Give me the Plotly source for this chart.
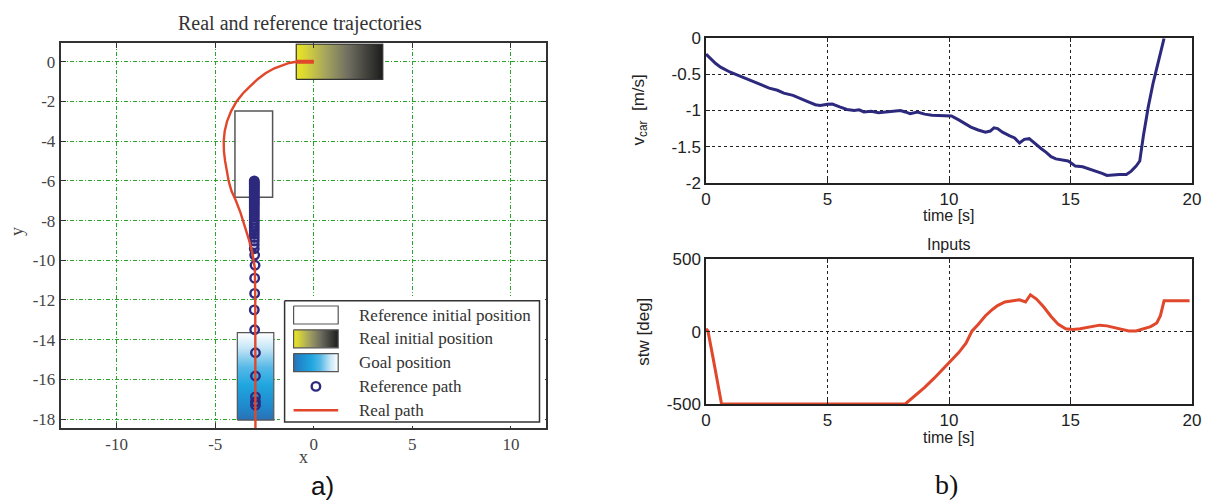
import plotly.graph_objects as go

W, H = 1206, 500

# ---------------- Panel a) data ----------------
ref_rect_x = [-4.0, -2.09]
ref_rect_y = [-6.82, -2.48]
real_rect_x = [-0.89, 3.5]
real_rect_y = [-0.89, 0.89]
goal_rect_x = [-3.88, -2.03]
goal_rect_y = [-18.05, -13.65]

ref_path_y = [-6.0, -6.07, -6.14, -6.21, -6.28, -6.36, -6.44, -6.52, -6.6, -6.69,
              -6.78, -6.87, -6.96, -7.06, -7.16, -7.26, -7.37, -7.48, -7.59, -7.71,
              -7.83, -7.96, -8.09, -8.23, -8.37, -8.52, -8.68, -8.85, -9.03, -9.22,
              -9.42, -9.74, -10.25, -10.9, -11.67, -12.5, -13.5, -14.66, -15.83,
              -16.88, -17.13, -17.3]
ref_path_x = [-3.02, -3.02, -3.02, -3.02, -3.02, -3.02, -3.02, -3.02, -3.02, -3.02,
              -3.02, -3.02, -3.02, -3.02, -3.02, -3.02, -3.02, -3.02, -3.02, -3.02,
              -3.02, -3.02, -3.02, -3.02, -3.02, -3.02, -3.02, -3.02, -3.02, -3.02,
              -3.02, -3.0, -2.98, -3.0, -3.0, -3.02, -3.0, -2.96, -2.96, -2.96, -2.96, -2.96]

real_path_x = [0.0, -0.45, -0.89, -1.25, -1.6, -2.0, -2.45, -2.85, -3.25, -3.6,
               -3.92, -4.2, -4.4, -4.52, -4.57, -4.56, -4.5, -4.42, -4.32, -4.18,
               -3.95, -3.72, -3.48, -3.28, -3.1, -2.99, -2.97, -2.97, -2.96]
real_path_y = [0.0, 0.0, 0.0, -0.06, -0.17, -0.33, -0.58, -0.88, -1.25, -1.6,
               -2.0, -2.5, -3.0, -3.5, -4.0, -4.5, -5.0, -5.5, -6.0, -6.5,
               -7.0, -7.6, -8.3, -9.0, -9.7, -10.4, -12.0, -15.0, -18.8]

a_xticks = [-10, -5, 0, 5, 10]
a_xticklabels = ["-10", "-5", "0", "5", "10"]
a_yticks = [0, -2, -4, -6, -8, -10, -12, -14, -16, -18]
a_yticklabels = ["0", "-2", "-4", "-6", "-8", "-10", "-12", "-14", "-16", "-18"]

legend_labels = ["Reference initial position", "Real initial position",
                 "Goal position", "Reference path", "Real path"]

# ---------------- Panel b) data ----------------
t_v = [0.0, 0.2, 0.4, 0.6, 0.8, 1.0, 1.3, 1.67, 2.0, 2.3, 2.6, 2.94, 3.2, 3.58, 3.9,
       4.21, 4.5, 4.7, 5.0, 5.2, 5.5, 5.8, 6.1, 6.3, 6.5, 6.8, 7.1, 7.4, 7.7, 8.0,
       8.2, 8.4, 8.7, 9.0, 9.3, 9.6, 9.9, 10.1, 10.4, 10.7, 10.9, 11.2, 11.5, 11.7,
       11.85, 12.0, 12.2, 12.5, 12.7, 12.9, 13.1, 13.3, 13.5, 13.8, 14.0, 14.2, 14.4,
       14.6, 14.9, 15.0, 15.2, 15.5, 15.7, 16.0, 16.3, 16.5, 16.7, 17.0, 17.3, 17.5,
       17.7, 17.85, 18.0, 18.2, 18.4, 18.6, 18.75, 18.85]
v_car = [-0.22, -0.29, -0.35, -0.40, -0.44, -0.47, -0.51, -0.56, -0.61, -0.65, -0.69,
         -0.72, -0.76, -0.79, -0.84, -0.88, -0.92, -0.93, -0.915, -0.91, -0.95, -0.985,
         -1.0, -0.99, -1.02, -1.01, -1.03, -1.02, -1.01, -1.0, -1.02, -1.045, -1.02,
         -1.05, -1.065, -1.07, -1.08, -1.075, -1.13, -1.19, -1.23, -1.27, -1.30, -1.285,
         -1.24, -1.25, -1.30, -1.35, -1.38, -1.45, -1.40, -1.39, -1.45, -1.53, -1.58,
         -1.64, -1.67, -1.68, -1.70, -1.72, -1.77, -1.78, -1.80, -1.84, -1.87, -1.90,
         -1.89, -1.885, -1.885, -1.84, -1.77, -1.70, -1.35, -0.95, -0.62, -0.33, -0.15, 0.0]

t_s = [0.0, 0.08, 0.3, 0.64, 8.2, 8.6, 9.0, 9.4, 9.8, 10.1, 10.4, 10.7, 10.95, 11.2,
       11.5, 11.8, 12.0, 12.3, 12.6, 12.9, 13.15, 13.35, 13.6, 13.9, 14.2, 14.5, 14.8,
       15.1, 15.4, 15.8, 16.2, 16.5, 16.8, 17.1, 17.4, 17.7, 18.0, 18.3, 18.55, 18.7,
       18.85, 19.9]
stw = [20, 5, -190, -500, -500, -445, -385, -320, -250, -200, -145, -80, 5, 50,
       110, 155, 180, 205, 215, 220, 205, 255, 225, 170, 105, 50, 20,
       15, 20, 30, 45, 40, 30, 15, 5, 5, 20, 35, 60, 110, 213, 213]

b_xticks = [0, 5, 10, 15, 20]
b_xticklabels = ["0", "5", "10", "15", "20"]
v_yticks = [0, -0.5, -1, -1.5, -2]
v_yticklabels = ["0", "-0.5", "-1", "-1.5", "-2"]
s_yticks = [500, 0, -500]
s_yticklabels = ["500", "0", "-500"]

# ---------------- styles ----------------
RED = "#e0472b"
NAVY = "#2d2a7e"
SERIF = "Liberation Serif"
SANS = "Liberation Sans"

yellow_scale = [[0, "#ebe51f"], [0.12, "#d5d23a"], [0.35, "#a3a25f"],
                [0.6, "#6f6e60"], [0.85, "#3a3a36"], [1, "#1c1c1c"]]
goal_scale = [[0, "#2b70b4"], [0.15, "#2088cc"], [0.4, "#1fa6df"],
              [0.6, "#55b8e7"], [0.82, "#c4e5f6"], [1, "#ffffff"]]


def px_x(p):
    return p / W


def px_y(p):
    return 1 - p / H


def rect_xy(xr, yr):
    return ([xr[0], xr[1], xr[1], xr[0], xr[0]], [yr[0], yr[0], yr[1], yr[1], yr[0]])


fig = go.Figure()

# --- panel a traces
rx, ry = rect_xy(ref_rect_x, ref_rect_y)
fig.add_trace(go.Scatter(x=rx, y=ry, mode="lines", fill="toself", fillcolor="white",
                         line=dict(color="#555555", width=1.5), xaxis="x", yaxis="y",
                         showlegend=False, hoverinfo="skip"))
rx, ry = rect_xy(real_rect_x, real_rect_y)
fig.add_trace(go.Scatter(x=rx, y=ry, mode="lines", fill="toself",
                         fillgradient=dict(type="horizontal", colorscale=yellow_scale),
                         line=dict(color="#333333", width=1.2), xaxis="x", yaxis="y",
                         showlegend=False, hoverinfo="skip"))
rx, ry = rect_xy(goal_rect_x, goal_rect_y)
fig.add_trace(go.Scatter(x=rx, y=ry, mode="lines", fill="toself",
                         fillgradient=dict(type="vertical", colorscale=goal_scale),
                         line=dict(color="#555555", width=1.2), xaxis="x", yaxis="y",
                         showlegend=False, hoverinfo="skip"))
fig.add_trace(go.Scatter(x=ref_path_x, y=ref_path_y, mode="markers",
                         marker=dict(symbol="circle-open", size=8.5, color=NAVY,
                                     line=dict(width=2.4, color=NAVY)),
                         xaxis="x", yaxis="y", showlegend=False))
fig.add_trace(go.Scatter(x=real_path_x, y=real_path_y, mode="lines",
                         line=dict(color=RED, width=2.4), xaxis="x", yaxis="y",
                         showlegend=False))
fig.add_trace(go.Scatter(x=real_path_x[:3], y=real_path_y[:3], mode="lines",
                         line=dict(color=RED, width=4), xaxis="x", yaxis="y",
                         showlegend=False))

# --- custom legend (overlay axes in pixel units)
LX0, LX1, LY0, LY1 = 280, 545, 296, 426
box_x, box_y = rect_xy([284.6, 539.5], [300.7, 422])
fig.add_trace(go.Scatter(x=box_x, y=box_y, mode="lines", fill="toself", fillcolor="white",
                         line=dict(color="#333333", width=1.5), xaxis="x4", yaxis="y4",
                         showlegend=False, hoverinfo="skip"))
row_y = [315, 338.8, 362.6, 386.4, 410.2]
sw_x = [293.6, 338.2]
swatch_fill = [dict(fillcolor="white"),
               dict(fillgradient=dict(type="horizontal", colorscale=yellow_scale)),
               dict(fillgradient=dict(type="horizontal", colorscale=goal_scale))]
for i in range(3):
    sx, sy = rect_xy(sw_x, [row_y[i] - 9, row_y[i] + 9])
    fig.add_trace(go.Scatter(x=sx, y=sy, mode="lines", fill="toself",
                             line=dict(color="#555555", width=1.2), xaxis="x4", yaxis="y4",
                             showlegend=False, hoverinfo="skip", **swatch_fill[i]))
fig.add_trace(go.Scatter(x=[(sw_x[0] + sw_x[1]) / 2], y=[row_y[3]], mode="markers",
                         marker=dict(symbol="circle-open", size=8.5, color=NAVY,
                                     line=dict(width=2.4, color=NAVY)),
                         xaxis="x4", yaxis="y4", showlegend=False))
fig.add_trace(go.Scatter(x=sw_x, y=[row_y[4], row_y[4]], mode="lines",
                         line=dict(color=RED, width=2.4), xaxis="x4", yaxis="y4",
                         showlegend=False))

# --- panel b traces
fig.add_trace(go.Scatter(x=t_v, y=v_car, mode="lines", line=dict(color=NAVY, width=3),
                         xaxis="x2", yaxis="y2", showlegend=False))
fig.add_trace(go.Scatter(x=t_s, y=stw, mode="lines", line=dict(color=RED, width=3),
                         xaxis="x3", yaxis="y3", showlegend=False))

# ---------------- axes ----------------
A_L, A_R, A_T, A_B = 60.7, 546, 43.3, 428
B_L, B_R = 706, 1192
B1_T, B1_B = 38.3, 182.7
B2_T, B2_B = 259.3, 404

green_grid = dict(showgrid=True, gridcolor="#2aa52a", griddash="4px,2px,1px,2px", gridwidth=1)
frame_a = dict(showline=True, linecolor="#333333", linewidth=2, mirror="allticks",
               ticks="inside", ticklen=5, tickcolor="#333333", zeroline=False,
               automargin=False,
               tickfont=dict(family=SERIF, size=17, color="#444444"))
frame_b = dict(showline=True, linecolor="#222222", linewidth=1.5, mirror="allticks",
               ticks="inside", ticklen=4, tickcolor="#222222", zeroline=False,
               showgrid=True, gridcolor="#222222", griddash="dot", gridwidth=1,
               automargin=False,
               tickfont=dict(family=SANS, size=17, color="#222222"))

fig.update_layout(
    width=W, height=H, margin=dict(l=0, r=0, t=0, b=0, pad=0, autoexpand=False),
    paper_bgcolor="white", plot_bgcolor="white", showlegend=False,
    xaxis=dict(domain=[px_x(A_L), px_x(A_R)], range=[-12.84, 11.78], anchor="y",
               tickvals=a_xticks, ticktext=a_xticklabels, **green_grid, **frame_a),
    yaxis=dict(domain=[px_y(A_B), px_y(A_T)], range=[-18.45, 0.93], anchor="x",
               tickvals=a_yticks, ticktext=a_yticklabels, **green_grid, **frame_a),
    xaxis2=dict(domain=[px_x(B_L), px_x(B_R)], range=[0, 20], anchor="y2",
                tickvals=b_xticks, ticktext=b_xticklabels, **frame_b),
    yaxis2=dict(domain=[px_y(B1_B), px_y(B1_T)], range=[-2, 0], anchor="x2",
                tickvals=v_yticks, ticktext=v_yticklabels, **frame_b),
    xaxis3=dict(domain=[px_x(B_L), px_x(B_R)], range=[0, 20], anchor="y3",
                tickvals=b_xticks, ticktext=b_xticklabels, **frame_b),
    yaxis3=dict(domain=[px_y(B2_B), px_y(B2_T)], range=[-500, 500], anchor="x3",
                tickvals=s_yticks, ticktext=s_yticklabels, **frame_b),
    xaxis4=dict(domain=[px_x(LX0), px_x(LX1)], range=[LX0, LX1], anchor="y4",
                visible=False, fixedrange=True, automargin=False),
    yaxis4=dict(domain=[px_y(LY1), px_y(LY0)], range=[LY1, LY0], anchor="x4",
                visible=False, fixedrange=True, automargin=False),
)

ann = []


def add_text(text, x, y, size, family, color="#222222", angle=0, xanchor="center"):
    ann.append(dict(text=text, x=px_x(x), y=px_y(y), xref="paper", yref="paper",
                    showarrow=False, textangle=angle, xanchor=xanchor, yanchor="middle",
                    font=dict(family=family, size=size, color=color)))


add_text("Real and reference trajectories", 300, 23, 20, SERIF, "#333333")
add_text("x", 303.5, 457, 18, SERIF, "#444444")
add_text("y", 17, 232, 18, SERIF, "#444444", angle=-90)
add_text("a)", 322, 486, 26, SANS, "#111111")
for i, lab in enumerate(legend_labels):
    ann.append(dict(text=lab, x=357, y=row_y[i], xref="x4", yref="y4", showarrow=False,
                    xanchor="left", yanchor="middle",
                    font=dict(family=SERIF, size=17, color="#333333")))

add_text("v<sub>car</sub>  [m/s]", 640, 110.5, 17, SANS, angle=-90)
add_text("time [s]", 949, 216, 16, SANS)
add_text("Inputs", 949, 244, 16, SANS)
add_text("stw [deg]", 644, 331.7, 17, SANS, angle=-90)
add_text("time [s]", 949, 437, 16, SANS)
add_text("b)", 946, 484, 28, SERIF, "#111111")

fig.update_layout(annotations=ann)

page_css = ("document.documentElement.style.margin='0';"
            "document.body.style.margin='0';"
            "document.body.style.overflow='hidden';"
            "document.documentElement.style.overflow='hidden';")
fig.write_html("out.html", post_script=page_css, config={"displayModeBar": False})
